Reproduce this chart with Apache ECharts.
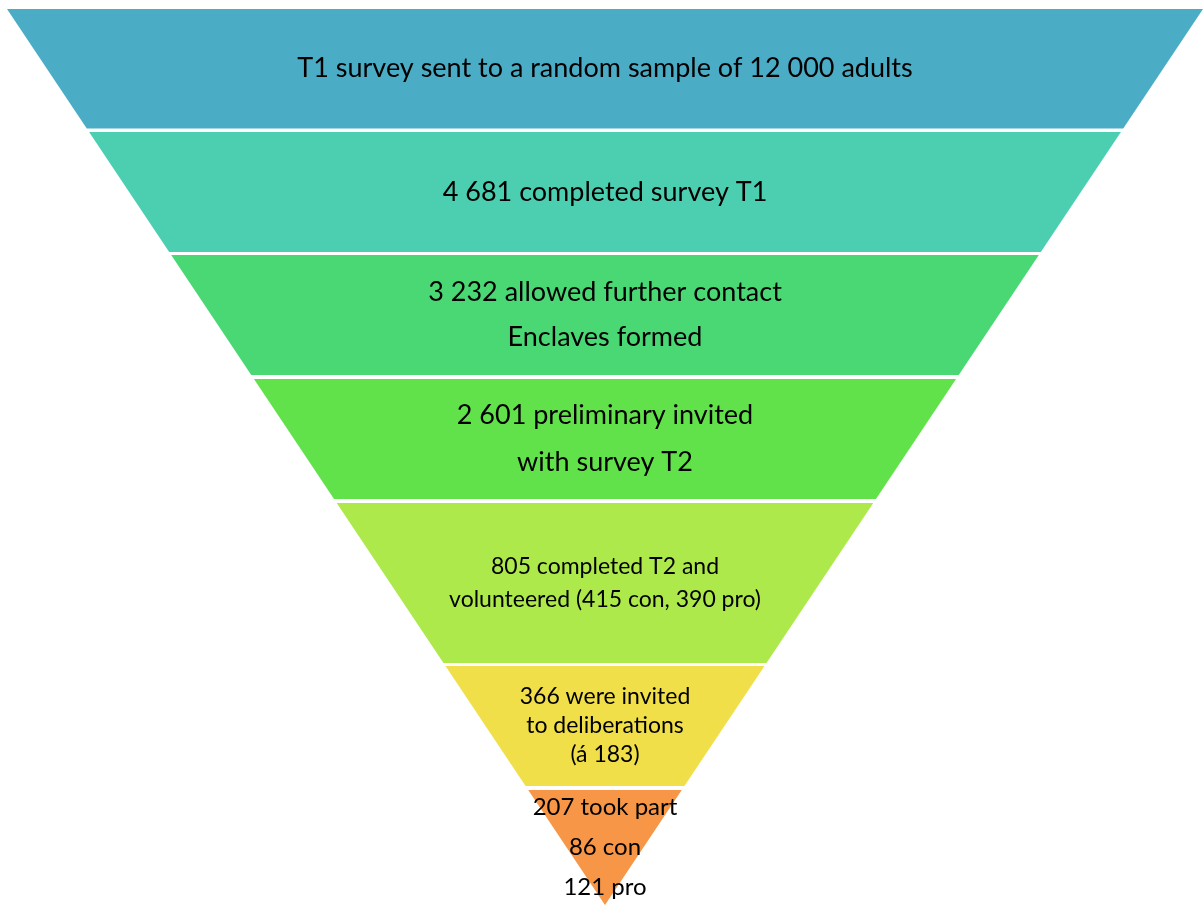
<!DOCTYPE html>
<html>
<head>
<meta charset="utf-8">
<script src="https://cdn.jsdelivr.net/npm/echarts@6/dist/echarts.min.js"></script>
<style>
  html, body { margin: 0; padding: 0; background: #fff; }
  #main { width: 1203px; height: 905px; }
</style>
</head>
<body>
<div id="main"></div>
<script>
// stages of the recruitment funnel, top to bottom
var stages = [
  'T1 survey sent to a random sample of 12 000 adults',
  '4 681 completed survey T1',
  '3 232 allowed further contact\nEnclaves formed',
  '2 601 preliminary invited\nwith survey T2',
  '805 completed T2 and\nvolunteered (415 con, 390 pro)',
  '366 were invited\nto deliberations\n(á 183)',
  '207 took part\n86 con\n121 pro'
]
// depth of each band (0 = top edge, 896 = apex)
var bandTop = [0, 123, 246, 370, 494, 657, 781]
var bandBottom = [119.5, 243, 366, 490, 654, 777, 896]

var colors = ['#4BACC6', '#4BCFB0', '#4AD875', '#62E24A', '#ADE94A', '#F0DF48', '#F79646']
var fontSizes = [27, 27, 27, 27, 23, 23, 24]
var lineHeights = [30, 30, 45, 47, 33, 29, 40]

var APEX = 896
var HALF = 598

var chart = echarts.init(document.getElementById('main'))

function renderBand(params, api) {
  var i = params.dataIndex
  var t = api.value(0)
  var b = api.value(1)
  // triangle half-width at a given depth
  var hw = function (d) { return HALF * (APEX - d) / APEX }
  var pts = [
    api.coord([-hw(t), t]),
    api.coord([hw(t), t]),
    api.coord([hw(b), b]),
    api.coord([-hw(b), b])
  ]
  return {
    type: 'polygon',
    shape: { points: pts },
    style: { fill: colors[i] },
    textContent: {
      style: {
        text: stages[i],
        fill: '#000',
        fontSize: fontSizes[i],
        lineHeight: lineHeights[i],
        fontFamily: 'Lato',
        align: 'center',
        verticalAlign: 'middle'
      }
    },
    textConfig: { position: 'inside' }
  }
}

chart.setOption({
  animation: false,
  grid: { left: 7, top: 9, width: 1196, height: 896 },
  xAxis: { type: 'value', min: -HALF, max: HALF, show: false },
  yAxis: { type: 'value', min: 0, max: APEX, inverse: true, show: false },
  series: [{
    type: 'custom',
    renderItem: renderBand,
    data: stages.map(function (s, i) { return [bandTop[i], bandBottom[i]] })
  }]
})
</script>
</body>
</html>
